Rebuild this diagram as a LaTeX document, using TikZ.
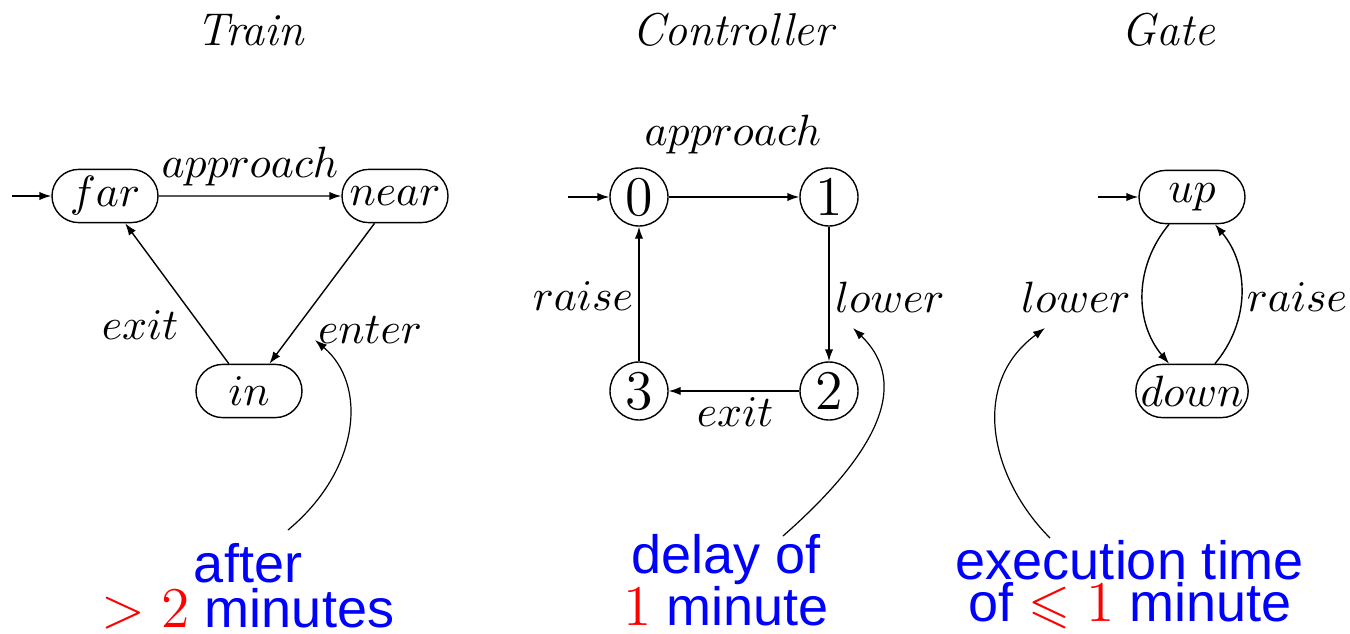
\documentclass[tikz,border=0pt]{standalone}
\usepackage{amssymb}
\usepackage{fontspec}
\newfontfamily\notefont{Liberation Sans}
\usetikzlibrary{arrows.meta,shapes.misc}

\begin{document}
\begin{tikzpicture}[x=0.25pt,y=-0.25pt,
  ln/.style={line width=0.35pt,-{Latex[length=3pt,width=2.1pt]}},
  rstate/.style={draw,line width=0.35pt,rounded rectangle,minimum width=26.5pt,
    minimum height=13.3pt,inner sep=0pt,font=\fontsize{10.9}{13}\selectfont},
  cstate/.style={draw,line width=0.35pt,circle,minimum size=14.5pt,inner sep=0pt,
    font=\fontsize{14}{16}\selectfont},
  lbl/.style={inner sep=0pt,font=\fontsize{10.9}{13}\selectfont},
  ttl/.style={inner sep=0pt,font=\fontsize{11.5}{13}\selectfont\itshape},
  note/.style={inner sep=0pt,text=blue,align=center},
  callout/.style={line width=0.3pt,-{Latex[length=3pt,width=2.1pt]}}]
\useasboundingbox (0,0) rectangle (1350,633);

% titles
\node[ttl] (tTrain) at (250,30) {Train};
\node[ttl] (tCtrl) at (733,30) {Controller};
\node[ttl] (tGate) at (1168,30) {Gate};

% ---- Train ----
\node[rstate] (far)  at (105,196) {$far$};
\node[rstate] (near) at (395,196) {$near$};
\node[rstate] (in)   at (249,391) {$in$};
\coordinate (farInit) at (12,196);
\draw[ln] (farInit) -- (far);
\draw[ln] (far) -- (near);
\draw[ln] (near) -- (in);
\draw[ln] (in) -- (far);
\node[lbl] (lApproach) at (250,167) {$approach$};
\node[lbl] (lExitT) at (140,325) {$exit$};
\node[lbl] (lEnter) at (370,330) {$enter$};

% ---- Controller ----
\node[cstate] (c0) at (639,197) {0};
\node[cstate] (c1) at (829,197) {1};
\node[cstate] (c2) at (829,391) {2};
\node[cstate] (c3) at (639,391) {3};
\coordinate (c0Init) at (568,197);
\draw[ln] (c0Init) -- (c0);
\draw[ln] (c0) -- (c1);
\draw[ln] (c1) -- (c2);
\draw[ln] (c2) -- (c3);
\draw[ln] (c3) -- (c0);
\node[lbl] (lApproachC) at (733,135) {$approach$};
\node[lbl] (lLowerC) at (890,297) {$lower$};
\node[lbl] (lRaiseC) at (583,296) {$raise$};
\node[lbl] (lExitC) at (735,412) {$exit$};

% ---- Gate ----
\node[rstate] (up)   at (1192,197) {$up$};
\node[rstate] (down) at (1192,391) {$down$};
\coordinate (upInit) at (1098,197);
\draw[ln] (upInit) -- (up);
\draw[ln] (up) to[bend right=40] (down);
\draw[ln] (down) to[bend right=40] (up);
\node[lbl] (lLowerG) at (1076,297) {$lower$};
\node[lbl] (lRaiseG) at (1297,297) {$raise$};

% ---- timing notes ----
\node[note,font=\notefont\fontsize{13.5}{11.25}\selectfont] (n1) at (248,586)
  {after\\\textcolor{red}{$>2$} minutes};
\node[note,font=\notefont\fontsize{13.5}{13}\selectfont] (n2) at (726,580)
  {delay of\\\textcolor{red}{$1$} minute};
\node[note,font=\notefont\fontsize{13.5}{10.5}\selectfont] (n3) at (1130,585)
  {execution time\\of \textcolor{red}{$\leqslant1$} minute};

\coordinate (k1s) at (288,530);
\coordinate (k1e) at (315,340);
\draw[callout] (k1s) .. controls (360,470) and (368,385) .. (k1e);
\coordinate (k2s) at (783,536);
\coordinate (k2e) at (853,328);
\draw[callout] (k2s) .. controls (875,455) and (912,385) .. (k2e);
\coordinate (k3s) at (1050,538);
\coordinate (k3e) at (1045,328);
\draw[callout] (k3s) .. controls (992,480) and (968,385) .. (k3e);
\end{tikzpicture}
\end{document}
